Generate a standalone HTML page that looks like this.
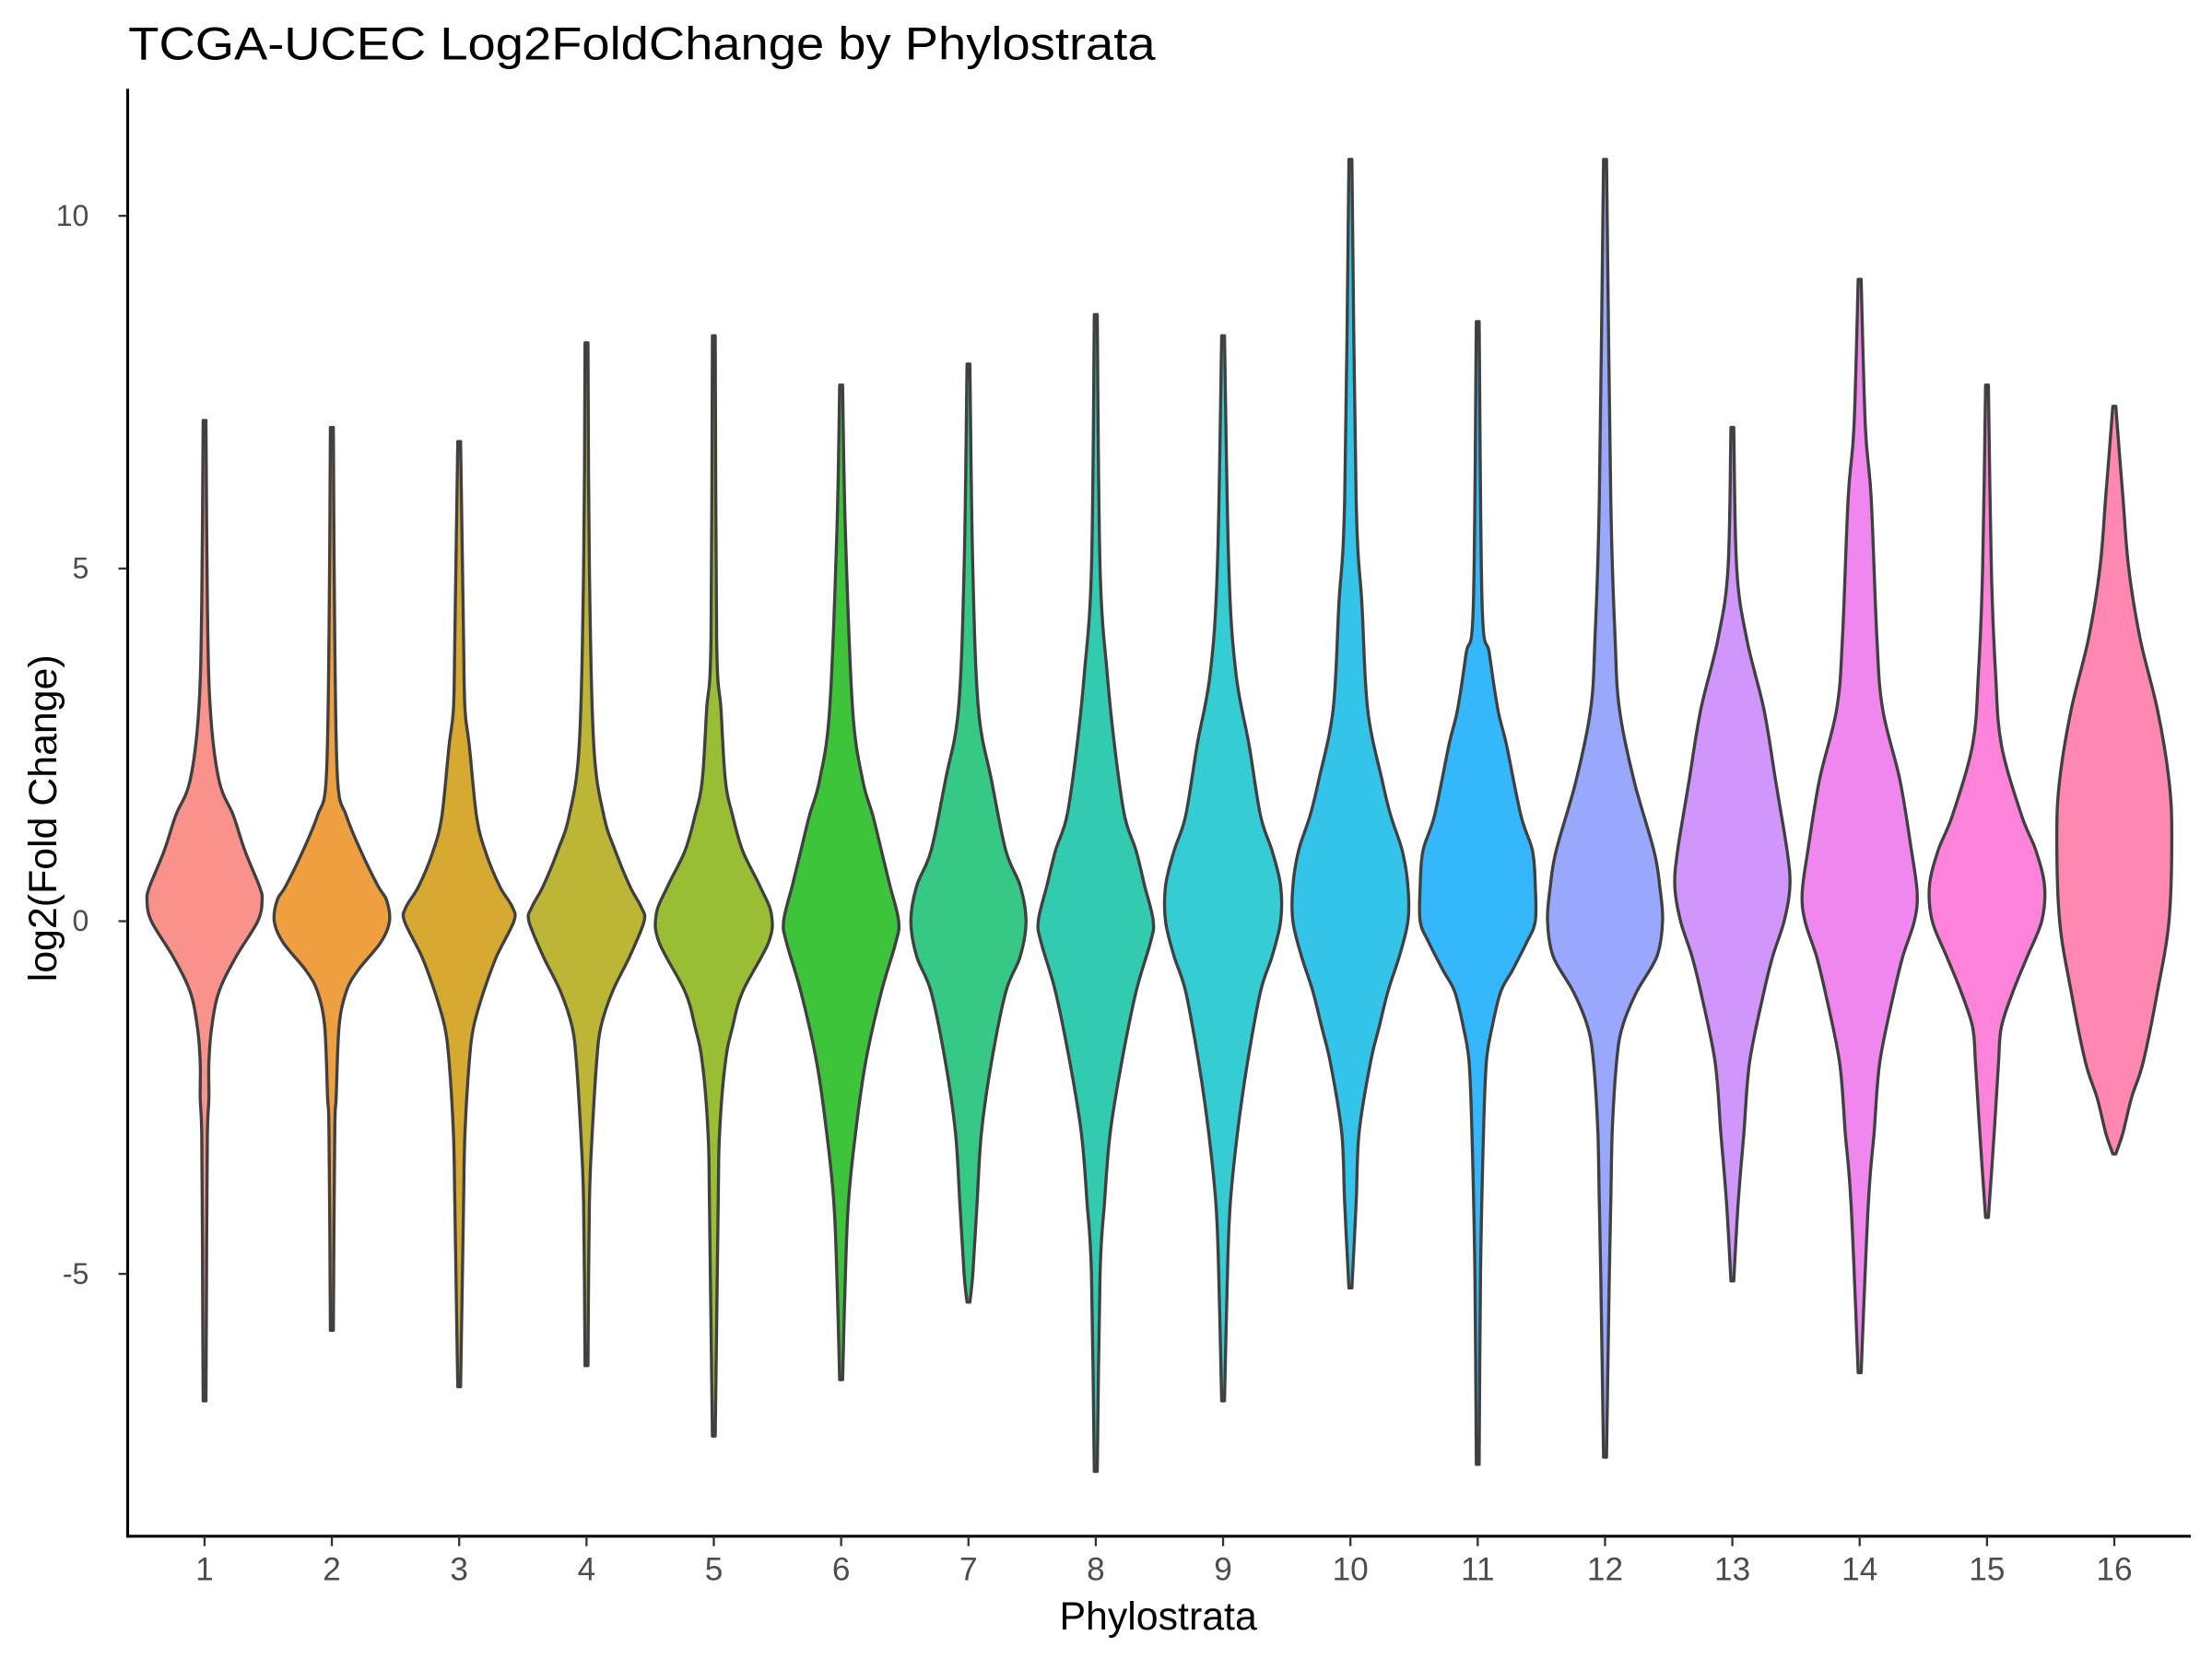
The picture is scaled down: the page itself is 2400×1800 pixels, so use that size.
<!DOCTYPE html>
<html><head><meta charset="utf-8"><style>
html,body{margin:0;padding:0;background:#fff}
svg{display:block}
text{font-family:"Liberation Sans",sans-serif}
</style></head><body>
<svg id="chart" width="2400" height="1800" viewBox="0 0 1568 1176" xmlns="http://www.w3.org/2000/svg">
<rect width="1568" height="1176" fill="#fff"/>
<text x="91" y="42" font-size="33" textLength="728" lengthAdjust="spacingAndGlyphs" fill="#000">TCGA-UCEC Log2FoldChange by Phylostrata</text>
<g id="violins"></g>
<line x1="90.5" y1="63" x2="90.5" y2="1090" stroke="#000" stroke-width="2"/>
<line x1="90" y1="1089" x2="1553" y2="1089" stroke="#000" stroke-width="2"/>
<g id="yticks"></g><g id="xticks"></g>
<text x="821" y="1155" font-size="28" text-anchor="middle" fill="#000">Phylostrata</text>
<text transform="translate(40,580) rotate(-90)" font-size="28" text-anchor="middle" fill="#000">log2(Fold Change)</text>
</svg>
<script>
const categories = ["1","2","3","4","5","6","7","8","9","10","11","12","13","14","15","16"];
const yTicks = [-5, 0, 5, 10];
const fills = ["#F8928A","#EEA040","#D6AA30","#BDB535","#98BE34","#3EC43A","#35C985","#33CBB0","#35CCD4","#34C4EA","#35B8FB","#99A8FD","#D096FB","#F087EE","#FC82DA","#FE88B2"];
// density profiles: [log2FC value, relative half-width (0-40)]
const p1=[[7.1,1],[4.5,2],[3,4],[2,10],[1.5,20],[1,28],[0.5,38],[0.3,40],[0,37],[-0.5,22],[-1,10],[-1.5,5],[-2,3],[-2.5,3],[-3,2],[-4.5,1.5],[-6.8,1]];
const p2=[[7.0,1],[4,2],[2,4],[1.5,10],[1,20],[0.5,32],[0.3,38],[0,40],[-0.3,34],[-0.7,18],[-1,10],[-1.5,5],[-2.5,3],[-3,2],[-5.8,1]];
const p3=[[6.8,1],[4,3],[3,4],[2.5,7],[1.5,12],[1,18],[0.5,28],[0.2,37],[0,38],[-0.5,26],[-1,17],[-1.5,10],[-2,7],[-3,4],[-4,3],[-6.6,1]];
const p4=[[8.2,1],[5,2],[2.5,5],[1.5,12],[1,20],[0.5,30],[0.2,38],[0,40],[-0.5,30],[-1,18],[-1.5,10],[-2,7],[-3,4],[-4,2],[-6.3,1]];
const p5=[[8.3,1],[4,2],[3,5],[2,8],[1.5,13],[1,20],[0.5,32],[0.1,40],[-0.3,38],[-1,20],[-1.5,13],[-2,8],[-3,4],[-4,3],[-7.3,1]];
const p6=[[7.6,1],[5.5,3],[3,8],[2,15],[1.5,22],[1,28],[0.5,34],[0,40],[-0.3,38],[-1,28],[-2,17],[-3,10],[-4,5],[-5,3],[-6.5,1]];
const p7=[[7.9,1],[5,3],[3,7],[2,16],[1,26],[0.5,36],[0,40],[-0.5,36],[-1,26],[-2,16],[-3,9],[-4,6],[-5,3],[-5.4,1]];
const p8=[[8.6,1],[5,3],[3.5,8],[2.5,13],[1.5,20],[1,28],[0.5,34],[0,40],[-0.3,38],[-1,28],[-2,18],[-3,10],[-4,6],[-5,3],[-7.8,1]];
const p9=[[8.3,1],[5,4],[3.5,9],[2.5,18],[1.5,26],[1,34],[0.5,40],[0,40],[-0.5,34],[-1,26],[-2,17],[-3,10],[-4,5],[-5,3],[-6.8,1]];
const p10=[[10.8,1],[6,4],[4.5,8],[3,12],[2,22],[1.5,28],[1,36],[0.5,40],[0,40],[-0.5,34],[-1,26],[-1.5,20],[-2,14],[-3,6],[-4,4],[-5.2,1]];
const p11=[[8.5,1],[4.5,3],[3.8,8],[3,14],[2.5,20],[1.5,30],[1,38],[0.5,40],[0,40],[-0.3,34],[-0.7,24],[-1,16],[-1.5,10],[-2,6],[-3,4],[-5,2],[-7.7,1]];
const p12=[[10.8,1],[6,4],[4,7],[3,10],[2,20],[1,34],[0.5,38],[0,40],[-0.5,36],[-1,22],[-1.5,12],[-2,8],[-3,5],[-4,4],[-5,3],[-7.6,1]];
const p13=[[7.0,1],[5,3],[4,10],[3,22],[2,30],[1,38],[0.5,40],[0,36],[-0.5,28],[-1,22],[-2,12],[-3,8],[-4,4],[-5.1,1]];
const p14=[[9.1,1],[7,4],[6,8],[4,12],[3,16],[2,28],[1,36],[0.4,40],[0,38],[-0.5,30],[-1,24],[-2,14],[-3,10],[-4,6],[-6.4,1]];
const p15=[[7.6,1],[5,3],[3.5,6],[2.5,10],[1.5,24],[1,34],[0.5,40],[0,38],[-0.5,28],[-1,18],[-1.5,10],[-2,8],[-3,5],[-4.2,1]];
const p16=[[7.3,1],[6,6],[5,10],[4,18],[3,30],[2,38],[1.2,40],[0,38],[-1,30],[-2,20],[-2.5,12],[-3,6],[-3.3,1]];
const profiles=[p1,p2,p3,p4,p5,p6,p7,p8,p9,p10,p11,p12,p13,p14,p15,p16];

const NS="http://www.w3.org/2000/svg";
function yScale(v){return 653-50*v;}
function xScale(i){return 145+i*90.25;}
function wScale(w){return w*40.8/40;}
function smoothSeg(pts){
  let d="";
  for(let k=0;k<pts.length-1;k++){
    const p0=pts[Math.max(k-1,0)],p1=pts[k],p2=pts[k+1],p3=pts[Math.min(k+2,pts.length-1)];
    const c1=[p1[0]+(p2[0]-p0[0])/6,p1[1]+(p2[1]-p0[1])/6];
    const c2=[p2[0]-(p3[0]-p1[0])/6,p2[1]-(p3[1]-p1[1])/6];
    d+="C"+c1[0].toFixed(1)+","+c1[1].toFixed(1)+" "+c2[0].toFixed(1)+","+c2[1].toFixed(1)+" "+p2[0].toFixed(1)+","+p2[1].toFixed(1);
  }
  return d;
}

const vg=document.getElementById('violins');
profiles.forEach((prof,i)=>{
  const cx=xScale(i);
  const right=prof.map(p=>[cx+wScale(p[1]),yScale(p[0])]);
  const left=prof.slice().reverse().map(p=>[cx-wScale(p[1]),yScale(p[0])]);
  let d="M"+right[0][0].toFixed(1)+","+right[0][1].toFixed(1)+smoothSeg(right);
  d+="L"+left[0][0].toFixed(1)+","+left[0][1].toFixed(1)+smoothSeg(left)+"Z";
  const path=document.createElementNS(NS,'path');
  path.setAttribute('d',d);
  path.setAttribute('fill',fills[i]);
  path.setAttribute('stroke','#404040');
  path.setAttribute('stroke-width','2.2');
  path.setAttribute('stroke-linejoin','round');
  
  
  vg.appendChild(path);
});

const yg=document.getElementById('yticks');
yTicks.forEach(t=>{
  const y=yScale(t);
  const l=document.createElementNS(NS,'line');
  l.setAttribute('x1',84);l.setAttribute('x2',90);l.setAttribute('y1',y);l.setAttribute('y2',y);
  l.setAttribute('stroke','#333');l.setAttribute('stroke-width','1.5');
  
  
  yg.appendChild(l);
  const tx=document.createElementNS(NS,'text');
  tx.setAttribute('x',63);tx.setAttribute('y',y+7);tx.setAttribute('text-anchor','end');
  tx.setAttribute('font-size','21');tx.setAttribute('fill','#4D4D4D');
  tx.textContent=String(t);
  
  
  yg.appendChild(tx);
});
const xg=document.getElementById('xticks');
categories.forEach((c,i)=>{
  const x=xScale(i);
  const l=document.createElementNS(NS,'line');
  l.setAttribute('x1',x);l.setAttribute('x2',x);l.setAttribute('y1',1089);l.setAttribute('y2',1096);
  l.setAttribute('stroke','#333');l.setAttribute('stroke-width','1.5');
  
  
  xg.appendChild(l);
  const tx=document.createElementNS(NS,'text');
  tx.setAttribute('x',x);tx.setAttribute('y',1120);tx.setAttribute('text-anchor','middle');
  tx.setAttribute('font-size','23');tx.setAttribute('fill','#4D4D4D');
  tx.textContent=c;
  
  
  xg.appendChild(tx);
});
</script>
</body></html>
